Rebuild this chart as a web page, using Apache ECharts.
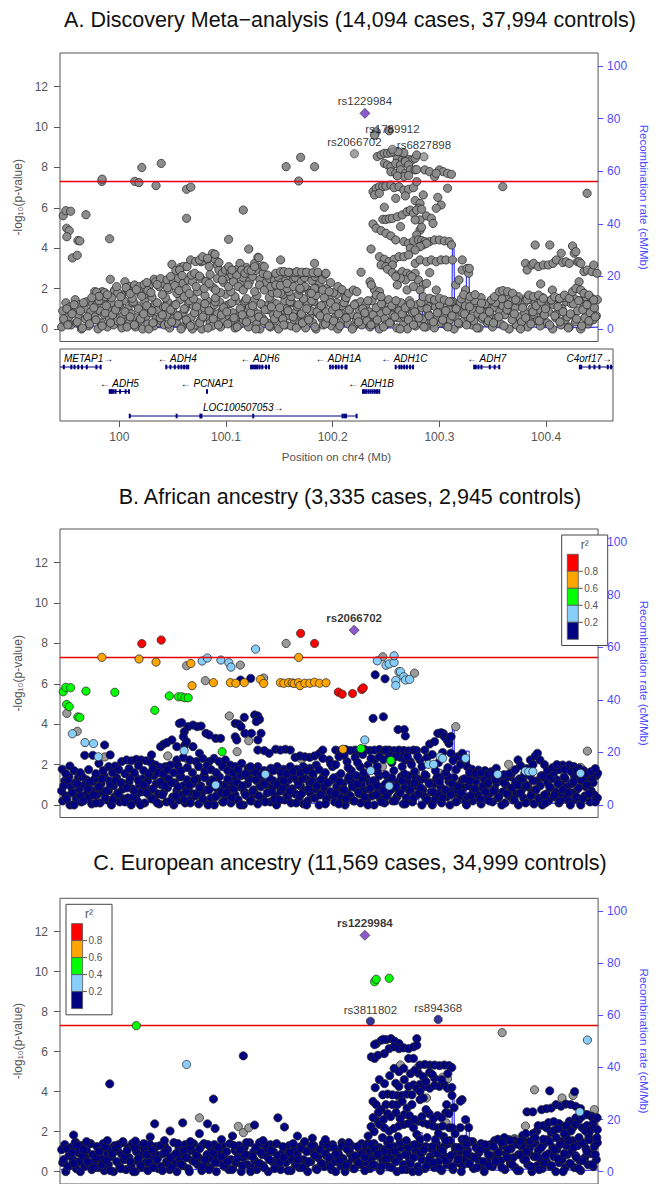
<!DOCTYPE html>
<html><head><meta charset="utf-8">
<script src="https://cdn.jsdelivr.net/npm/echarts@6/dist/echarts.min.js"></script>
<style>html,body{margin:0;padding:0;background:#fff}#c{width:658px;height:1184px}</style>
</head><body><div id="c"></div>
<script>
// ---------- axes / ticks ----------
// x positions are kb relative to chr4:100,000,000 (kb = (Mb - 100) * 1000)
const X_MIN = -55.6, X_MAX = 462.7;
const Y_MIN = -0.62, Y_MAX = 13.67;
const R_MIN = -4.75, R_MAX = 104.9;
const GWS = 7.3;
const xTicksMb = [100, 100.1, 100.2, 100.3, 100.4];
const yTicks = [0, 2, 4, 6, 8, 10, 12];
const recombTicks = [0, 20, 40, 60, 80, 100];
const r2Breaks = ['0.8', '0.6', '0.4', '0.2'];
const ldColors = ['#ff0000', '#ffa500', '#00ff00', '#87cefa', '#000080'];
const titles = ['A. Discovery Meta\u2212analysis (14,094 cases, 37,994 controls)',
  'B. African ancestry (3,335 cases, 2,945 controls)',
  'C. European ancestry (11,569 cases, 34,999 controls)'];

// ---------- recombination rate (cM/Mb) ----------
const recomb = [[-55,0.8],[-45,1.5],[-38,0.6],[-25,1.2],[-12,0.5],[0,0.9],[10,2.0],[18,0.7],[30,1.1],[42,0.4],[48,1.8],[55,0.6],[70,1.0],[85,0.5],[100,1.3],[115,0.6],[130,0.9],[150,0.4],[170,1.1],[190,0.6],[210,0.9],[230,0.5],[248,0.4],[290,0.4],[290.6,15],[293.2,15],[293.7,0.5],[321.8,0.6],[322.4,30.5],[324,30.5],[324.5,2],[335.5,2],[335.9,20.5],[338.5,20.5],[339,0.6],[355,0.9],[370,0.4],[390,1.0],[410,0.5],[430,0.8],[445,0.4],[462.7,0.7]];

// ---------- dense low-significance SNPs (shared positions, per-panel -log10 p) ----------
const bandKb = [
-54,-53,-51,-50,-47,-46,-45,-43,-41,-40,-38,-37,-35,-32,-31,-30,-28,-26,-25,-24,
-22,-20,-19,-17,-16,-14,-13,-10,-9,-8,-6,-4,-3,-1,0,2,4,5,6,8,
10,11,13,14,17,18,19,21,23,24,26,27,29,31,32,35,36,37,39,40,
42,44,45,47,48,50,53,54,55,57,59,60,62,63,65,67,68,71,72,73,
75,77,78,80,81,83,85,86,89,90,91,93,95,96,98,99,101,103,104,107,
108,109,111,113,114,116,117,119,121,122,125,126,127,129,131,132,134,135,137,139,
140,143,144,145,147,149,150,152,153,155,157,158,161,162,163,165,167,168,170,171,
173,175,176,179,180,181,183,185,186,188,189,191,193,194,197,198,199,201,203,204,
206,207,209,211,212,215,216,217,219,221,222,224,225,227,229,230,233,234,235,237,
239,240,242,243,245,247,248,251,252,253,255,257,258,260,261,263,265,266,269,270,
271,273,275,276,278,279,281,283,284,287,288,289,291,293,294,296,297,299,301,302,
305,306,307,309,311,312,314,315,317,319,320,323,324,325,327,329,330,332,333,335,
337,338,341,342,343,345,347,348,350,351,353,355,356,359,360,361,363,365,366,368,
369,371,373,374,377,378,379,381,383,384,386,387,389,391,392,395,396,397,399,401,
402,404,405,407,409,410,413,414,415,417,419,420,422,423,425,427,428,431,432,433,
435,437,438,440,441,443,445,446,449,450,451,453,455,456,458,459,461,462];
const bandKb2 = [
-52,-49,-48,-44,-42,-39,-36,-34,-33,-29,-27,-23,-21,-18,-15,-12,-11,-7,-5,-2,
1,3,7,9,12,15,16,20,22,25,28,30,33,34,38,41,43,46,49,51,
52,56,58,61,64,66,69,70,74,76,79,82,84,87,88,92,94,97,100,102,
105,106,110,112,115,118,120,123,124,128,130,133,136,138,141,142,146,148,151,154,
156,159,160,164,166,169,172,174,177,178,182,184,187,190,192,195,196,200,202,205,
208,210,213,214,218,220,223,226,228,231,232,236,238,241,244,246,249,250,254,256,
259,262,264,267,268,272,274,277,280,282,285,286,290,292,295,298,300,303,304,308,
310,313,316,318,321,322,326,328,331,334,336,339,340,344,346,349,352,354,357,358,
362,364,367,370,372,375,376,380,382,385,388,390,393,394,398,400,403,406,408,411,
412,416,418,421,424,426,429,430,434,436,439,442,444,447,448,452,454,457,460];
const bandA = [
0.1,0.9,0.4,1.3,0.6,1.1,0.2,0.8,1.45,0.3,0.7,1.2,0.0,1.0,0.5,1.35,0.15,0.85,0.45,1.25,
0.6,1.2,0.0,0.9,0.3,1.4,0.7,0.1,1.1,0.5,1.3,0.2,0.8,1.0,0.4,1.2,0.05,0.65,1.4,0.35,
1.0,0.3,0.75,1.3,0.1,0.55,1.15,0.4,0.9,0.0,1.4,0.6,0.25,1.05,0.8,0.15,1.25,0.5,0.95,0.3,
0.4,1.1,0.2,0.7,1.35,0.05,0.9,0.5,1.2,0.3,0.65,1.45,0.1,0.8,1.0,0.35,1.3,0.6,0.0,1.15,
0.2,0.85,1.3,0.45,0.0,1.05,0.6,1.4,0.3,0.9,0.15,1.2,0.55,0.75,1.35,0.1,0.95,0.4,1.15,0.65,
1.25,0.35,0.8,0.05,1.4,0.6,0.2,1.0,0.45,1.3,0.7,0.1,1.1,0.5,0.9,1.45,0.25,0.75,0.0,1.2,
0.5,1.15,0.3,0.95,0.1,1.35,0.7,0.4,1.25,0.0,0.85,0.55,1.4,0.2,1.0,0.65,0.15,1.3,0.45,0.8,
1.1,0.25,0.7,1.4,0.4,0.05,1.2,0.6,0.9,0.3,1.35,0.0,0.75,1.05,0.5,0.2,1.25,0.85,0.35,1.45,
0.15,0.95,0.55,1.3,0.0,0.8,1.15,0.35,1.4,0.6,0.25,1.0,0.7,0.1,1.25,0.45,0.9,1.35,0.2,0.65,
1.2,0.4,0.85,0.1,1.4,0.6,0.3,1.05,0.0,0.75,1.3,0.5,0.2,0.95,1.45,0.35,0.7,1.1,0.05,0.55,
0.9,1.3,0.2,0.6,1.0,0.0,1.4,0.45,0.8,0.15,1.2,0.65,0.3,1.05,0.5,1.35,0.1,0.75,1.15,0.4,
0.05,1.1,0.5,0.85,1.4,0.3,0.7,1.25,0.15,0.95,0.45,1.35,0.0,0.6,1.05,0.25,1.3,0.8,0.4,1.15,
0.6,1.45,0.2,1.0,0.4,1.3,0.75,0.05,1.55,0.5,0.9,1.2,0.3,0.65,1.4,0.1,1.05,0.55,1.3,0.85,
0.25,1.15,0.7,1.5,0.0,0.9,1.35,0.45,1.05,0.2,1.6,0.6,0.35,1.25,0.8,0.1,1.45,0.5,1.0,0.7,
1.3,0.4,0.95,0.15,1.55,0.65,1.1,0.3,0.85,1.4,0.0,1.2,0.55,0.75,1.5,0.2,1.0,0.45,1.35,0.6,
0.1,1.25,0.7,1.5,0.35,0.9,1.4,0.0,1.1,0.55,1.6,0.25,0.8,1.3,0.45,1.05,0.65,1.45];
const bandA2 = [
0.5,1.0,0.2,0.75,1.2,0.35,0.9,0.05,1.3,0.6,0.25,1.05,0.45,1.4,0.15,0.8,1.15,0.3,0.7,0.95,
1.25,0.4,0.85,0.1,0.6,1.35,0.2,1.0,0.5,0.75,1.15,0.0,0.9,0.3,1.3,0.55,0.7,1.1,0.25,0.95,
0.35,1.2,0.65,0.0,1.0,0.45,1.4,0.15,0.8,1.1,0.3,0.6,1.25,0.05,0.9,0.5,1.35,0.2,0.7,1.05,
0.85,0.25,1.3,0.55,0.1,1.0,0.7,1.4,0.35,0.8,1.15,0.0,0.6,1.25,0.4,0.95,0.15,1.1,0.5,0.75,
1.05,0.5,0.2,0.9,1.35,0.6,0.05,1.2,0.75,0.3,1.0,0.45,1.4,0.1,0.85,0.65,1.15,0.25,0.55,1.3,
0.4,1.1,0.75,0.15,1.3,0.55,0.95,0.0,1.2,0.6,0.35,1.0,0.8,1.4,0.2,0.7,1.05,0.45,1.25,0.1,
0.9,0.3,1.15,0.6,1.4,0.0,0.75,1.05,0.45,1.25,0.2,0.85,0.55,1.3,0.1,1.0,0.65,1.45,0.35,0.8,
1.2,0.45,0.9,0.1,1.35,0.65,1.0,0.3,1.5,0.75,0.2,1.1,0.55,1.4,0.05,0.95,0.6,1.25,0.4,0.85,
0.3,1.3,0.6,1.5,0.15,0.95,1.2,0.45,0.75,1.4,0.0,1.05,0.55,1.55,0.25,0.85,1.15,0.4,1.35,0.7,
1.0,0.2,1.45,0.65,1.1,0.35,0.85,1.55,0.05,0.75,1.25,0.5,1.4,0.15,0.95,1.2,0.4,1.5,0.6];
const bandB = [
0.7,0.2,1.2,0.45,1.4,0.0,0.9,0.6,1.1,0.3,1.35,0.8,0.15,1.0,0.5,1.25,0.35,0.75,0.05,1.15,
1.3,0.5,0.85,0.1,1.05,0.65,1.45,0.25,0.7,1.2,0.0,0.95,0.4,1.35,0.6,0.15,1.1,0.8,0.3,1.0,
0.35,1.15,0.0,0.8,1.4,0.5,0.2,1.0,0.65,1.3,0.1,0.9,1.2,0.45,0.75,1.45,0.25,1.05,0.55,0.05,
1.0,0.6,1.35,0.15,0.85,1.2,0.4,0.0,1.1,0.7,0.25,1.4,0.5,0.95,0.1,1.25,0.8,0.35,1.05,0.55,
0.45,1.3,0.05,0.95,0.6,1.45,0.2,0.75,1.1,0.35,1.25,0.0,0.85,0.5,1.4,0.7,0.15,1.0,0.4,1.2,
0.8,0.1,1.15,0.5,1.35,0.25,0.9,1.45,0.0,0.65,1.05,0.4,1.3,0.2,0.75,0.55,1.2,0.05,0.95,1.4,
0.3,1.0,0.6,1.4,0.15,0.85,1.2,0.45,0.0,1.1,0.7,1.35,0.25,0.9,0.5,1.25,0.1,0.8,1.45,0.55,
1.2,0.4,0.95,0.05,0.7,1.3,0.2,1.05,0.55,1.45,0.35,0.8,1.15,0.0,0.6,1.4,0.9,0.3,1.1,0.65,
0.5,1.25,0.15,0.9,1.4,0.35,0.75,1.05,0.0,0.6,1.3,0.45,1.15,0.2,0.85,1.45,0.55,0.1,1.0,0.7,
1.35,0.25,0.8,1.1,0.45,0.0,1.2,0.65,1.45,0.3,0.9,0.1,1.05,0.55,1.3,0.75,0.2,0.95,0.4,1.15,
0.6,1.4,0.05,0.85,0.35,1.2,0.7,1.0,0.15,1.35,0.5,0.9,1.25,0.0,0.75,0.4,1.45,0.25,1.1,0.65,
1.05,0.3,1.3,0.55,0.9,0.1,1.45,0.7,0.4,1.15,0.0,0.8,1.35,0.6,0.2,1.0,0.45,1.25,0.85,0.15,
0.4,0.95,1.35,0.2,0.7,1.15,0.5,1.45,0.05,0.85,1.25,0.3,1.0,0.6,1.4,0.15,0.8,1.1,0.35,0.55,
1.25,0.65,0.1,1.0,0.45,1.4,0.8,0.25,1.15,0.55,0.0,1.3,0.75,0.35,1.05,0.9,0.2,1.45,0.6,0.05,
0.75,1.2,0.35,0.95,0.0,1.35,0.55,1.1,0.2,0.85,1.45,0.4,0.65,1.25,0.1,1.0,0.5,1.3,0.3,0.9,
0.2,1.05,0.6,1.4,0.3,0.8,1.25,0.0,1.15,0.45,0.9,1.35,0.15,0.7,1.1,0.5,1.45,0.35];
const bandB2 = [
0.95,0.3,1.25,0.6,0.0,1.05,0.45,1.4,0.2,0.8,1.15,0.5,0.1,0.9,1.3,0.35,0.7,1.0,0.25,1.2,
0.55,1.1,0.15,0.85,1.35,0.4,0.7,1.2,0.0,1.0,0.6,1.45,0.3,0.8,0.1,1.15,0.5,0.95,1.3,0.2,
1.1,0.45,0.9,1.4,0.25,0.65,1.0,0.1,1.25,0.55,0.85,0.3,1.35,0.0,0.75,1.2,0.4,1.05,0.6,0.15,
0.6,1.3,0.35,0.8,1.1,0.0,0.95,0.5,1.45,0.2,0.7,1.25,0.45,0.9,1.05,0.15,1.35,0.65,0.3,1.0,
0.25,0.85,1.2,0.45,0.7,1.4,0.1,1.0,0.55,1.3,0.0,0.8,1.15,0.35,0.95,0.5,1.25,0.05,1.1,0.65,
1.35,0.55,0.05,1.15,0.75,0.3,1.4,0.9,0.2,1.05,0.6,1.3,0.4,0.0,0.85,1.2,0.5,0.95,0.15,0.7,
0.45,1.0,1.35,0.2,0.9,0.6,1.2,0.05,1.45,0.75,0.35,1.1,0.55,0.85,1.3,0.25,1.05,0.0,0.65,1.4,
1.15,0.35,0.75,1.4,0.5,1.05,0.15,0.9,0.6,1.3,0.0,1.2,0.45,0.8,1.45,0.3,0.95,0.65,1.1,0.2,
0.7,1.25,0.4,0.0,1.1,0.55,1.4,0.85,0.25,1.0,0.6,1.3,0.1,0.95,0.45,1.2,0.75,0.3,1.45,0.5,
0.1,0.9,1.3,0.5,1.05,0.2,0.75,1.4,0.6,0.0,1.15,0.4,0.85,1.25,0.3,1.0,0.55,1.35,0.15];
const bandC = [
1.1,0.45,1.35,0.0,0.8,0.3,1.2,0.6,1.45,0.15,0.95,0.5,1.3,0.25,0.7,1.05,0.4,1.4,0.1,0.85,
0.55,1.25,0.2,1.0,0.65,1.4,0.05,0.9,0.35,1.15,0.75,0.0,1.3,0.5,1.05,0.25,0.85,1.45,0.6,0.1,
1.2,0.7,0.3,1.4,0.0,1.0,0.55,1.3,0.2,0.85,1.15,0.45,0.05,1.35,0.65,0.95,0.35,1.25,0.15,0.8,
0.25,0.9,1.3,0.5,1.1,0.1,0.75,1.45,0.4,0.0,1.2,0.6,0.95,0.3,1.35,0.7,0.15,1.05,0.55,1.4,
0.95,0.35,0.7,1.25,0.05,1.4,0.5,0.85,0.2,1.15,0.65,1.35,0.0,0.8,0.45,1.0,1.3,0.25,0.6,0.1,
1.4,0.6,0.15,1.05,0.45,0.9,1.3,0.0,0.7,1.2,0.35,0.8,1.45,0.2,1.0,0.55,0.1,1.25,0.4,0.85,
0.3,1.15,0.75,0.0,1.35,0.5,1.0,0.25,1.4,0.65,0.1,0.9,1.2,0.45,0.8,1.3,0.05,0.6,1.1,0.35,
0.85,0.2,1.25,0.6,1.45,0.35,0.0,1.1,0.5,0.95,1.3,0.15,0.7,1.05,0.4,1.4,0.25,0.8,1.2,0.55,
0.1,1.35,0.5,0.8,1.05,0.3,1.45,0.65,0.0,1.2,0.4,0.9,1.3,0.15,0.75,0.55,1.15,0.35,1.4,0.95,
1.3,0.45,1.0,0.15,0.7,1.4,0.3,0.85,1.2,0.05,0.6,1.1,0.4,1.45,0.25,0.95,0.65,1.25,0.0,0.8,
0.7,1.2,0.35,1.45,0.1,0.9,0.55,1.3,0.0,1.05,0.8,0.25,1.35,0.6,1.0,0.15,1.25,0.45,0.75,1.15,
0.2,0.95,1.4,0.5,1.15,0.05,0.8,1.3,0.35,0.65,1.45,0.1,0.9,1.2,0.45,0.7,1.05,0.3,1.35,0.6,
1.05,0.4,0.75,1.5,0.15,1.2,0.6,0.95,1.4,0.3,0.0,1.1,0.5,1.35,0.8,0.25,1.55,0.65,1.0,0.45,
0.55,1.3,0.1,0.9,1.6,0.4,1.15,0.7,0.2,1.45,0.85,0.05,1.25,0.6,1.5,0.35,0.95,1.2,0.0,0.75,
1.45,0.3,1.05,0.65,0.15,1.35,0.5,1.6,0.9,0.25,1.2,0.75,0.0,1.1,0.45,1.5,0.6,0.2,1.3,0.85,
0.4,1.0,1.55,0.2,0.8,1.3,0.55,0.05,1.4,0.7,1.15,0.35,1.6,0.9,0.25,1.25,0.6,1.45];
const bandC2 = [
0.6,1.15,0.25,0.95,0.4,1.3,0.0,0.8,1.1,0.5,1.4,0.2,0.7,1.0,0.35,1.25,0.55,0.05,0.9,1.2,
1.35,0.15,0.75,1.05,0.5,0.0,1.2,0.65,0.3,1.4,0.85,0.45,1.1,0.2,0.6,1.3,0.05,0.95,0.4,0.7,
0.2,0.9,1.4,0.35,1.05,0.7,0.0,1.25,0.5,0.8,1.15,0.25,0.6,1.35,0.1,0.95,0.45,1.2,0.75,0.3,
1.0,0.5,0.1,1.3,0.65,1.1,0.3,0.85,1.45,0.0,0.75,1.2,0.4,0.95,0.2,1.35,0.6,1.05,0.15,0.8,
0.45,1.25,0.7,0.05,0.95,1.4,0.35,0.6,1.15,0.2,1.0,0.5,1.3,0.8,0.1,1.1,0.4,0.9,1.35,0.25,
1.2,0.0,0.85,0.55,1.35,0.3,1.05,0.7,0.15,1.25,0.45,0.95,0.05,1.4,0.6,0.35,1.15,0.8,0.25,1.0,
0.65,1.3,0.2,1.0,0.5,1.45,0.1,0.85,1.2,0.4,0.7,1.35,0.0,0.95,1.1,0.3,0.6,1.25,0.45,0.9,
0.15,1.05,0.55,1.4,0.8,0.25,1.2,0.6,0.0,1.3,0.9,0.4,1.5,0.7,0.2,1.1,0.5,1.35,0.85,0.3,
1.25,0.5,0.95,0.2,1.45,0.7,1.1,0.35,1.55,0.05,0.85,1.3,0.6,1.0,0.25,1.4,0.75,0.1,1.2,0.45,
0.8,1.5,0.3,1.1,0.65,1.35,0.0,0.9,1.55,0.4,1.2,0.7,0.15,1.45,0.55,1.0,1.6,0.35,0.85];

// ---------- Panel A: SNPs above the dense band (no LD colouring) ----------
const snpsA = [
[-52.5,5.61],[-50,5.86],[-45.3,5.83],[-49.2,4.99],[-46.7,4.87],[-49,4.57],[-43.7,3.52],[-39,3.65],[-38.4,4.38],[-36.5,4.36],[-30.6,5.66],[-15.3,7.31],[-15,7.42],[-7.8,4.47],[-7.2,2.46],[-2.8,1.93],[-22.2,1.85],[-15,1.85],[-12,1.6],[-20.3,1.82],[-12.5,1.8],[-3,1.9],
[6.9,2.34],[11.6,2.1],[16.3,2.18],[21,2.1],[25.5,2.2],[30.3,2.13],[35,2.46],[39.7,2.1],[44.4,2.26],[36.6,2.34],[41.3,2.5],[47.5,2.43],[53.7,2.34],[58.4,2.5],[63.1,2.26],[67.8,2.43],[52.2,3.2],[56,2.9],[60.5,3.05],[63.5,3.1],[59.6,2.92],[66.8,3.09],[70.2,3.42],[75,3.34],
[-18,1.62],[-6,1.55],[4,1.68],[14,1.52],[26,1.72],[33,1.58],[46,1.55],[57,1.76],[64,1.6],[73,1.5],[84,1.66],[94,1.54],[104,1.72],[113,1.6],[124,1.5],[134,1.66],[146,1.56],[159,1.7],[167,1.6],[179,1.5],[191,1.66],[199,1.56],[211,1.72],[219,1.6],[0,1.8],[9,1.95],[20,1.85],[29,1.9],[49,1.95],
[-25,1.55],[-10,1.7],[-1,2.1],[3,1.6],[8,2.05],[12,1.75],[18,1.95],[23,1.62],[28,2.3],[32,1.8],[38,2.2],[43,1.7],[48,2.05],[51,2.6],[55,2.15],[59,1.9],[62,2.65],[66,2.0],[69,1.75],[72,2.35],[77,1.85],[80,2.5],[85,2.35],[89,2.7],[92,2.05],[96,2.5],[99,1.8],[102,2.3],[105,2.6],[109,1.85],[112,2.5],[115,2.95],[118,2.2],[121,2.55],[124,3.05],[127,2.35],[130,2.6],[133,2.9],[137,2.45],[140,2.75],[143,2.3],[146,2.5],[149,1.8],[151,2.4],[155,2.55],[158,2.3],[162,2.45],[165,1.85],[168,2.35],[171,2.55],[174,1.7],[177,2.35],[180,2.55],[183,1.95],[187,2.4],[190,2.6],[194,2.2],[197,2.45],[201,2.0],[205,2.3],[208,1.8],[212,2.1],[216,1.95],[220,1.55],
[70.9,2.67],[74.1,2.76],[78.8,2.62],[80.3,3.33],[81.9,3.38],[86.6,3.45],[88.1,3.09],[91.3,3.58],[93.7,3.45],[96,3.17],[97.5,2.92],[100.7,2.76],[103.7,2.92],[108.4,2.84],[110,2.67],[114.7,2.67],[117.8,3.25],[119.4,2.92],[122.5,2.76],[125.6,2.92],[128.8,2.89],[131.9,3.25],[135,3.55],[139.6,3.12],[141.2,3.09],[144.3,2.67],[91.3,3.74],[93.7,3.7],[78.7,3.42],[81.8,3.58],[86.5,3.5],[97.5,3.29],[107,3.09],[110,2.92],[131.8,3.09],[135.9,3.53],[106.8,4.44],[126.2,3.96],
[75.6,2.1],[83.4,2.01],[88.1,2.26],[94.4,1.93],[100.7,2.43],[106.8,2.1],[111.5,2.34],[116.2,2.1],[120.9,1.93],[125.6,2.18],[131.9,1.85],[136.6,2.18],[141.2,1.93],[147.5,2.1],[152.2,2.18],[156.9,1.77],[163.1,2.01],[169.4,2.1],[175.6,1.93],[180.3,2.1],[185,1.77],[191.2,2.01],[197.5,1.93],[203.7,1.85],[156.8,2.15],[163.1,2.26],[175.6,2.01],[189.6,2.01],[186.5,1.77],[153.8,1.77],
[152.2,2.76],[156.9,2.84],[161.5,2.76],[166.2,2.79],[170.9,2.79],[175.6,2.76],[180.3,2.79],[185,2.76],[191.2,2.76],[200,2.72],[160,2.84],[164.6,2.81],[172.5,2.84],[177.2,2.81],[181.9,2.81],[188.1,2.79],[192.8,2.81],[156.9,3.42],[189.6,3.25],
[16.4,7.31],[20.5,7.25],[23.2,8.0],[36.9,7.1],[41.9,8.2],[66.3,5.48],[66.3,6.92],[70.4,7.03],[120.9,5.89],[162.2,8.04],[176.2,8.5],[174.3,7.33],[189.6,8.04],
[249,9.77],[261.5,9.82],[247.4,9.6],
[250,8.54],[253.7,8.62],[256.8,8.7],[259.9,8.7],[263.1,8.73],[265.6,8.78],[269.3,8.45],[274,8.37],[277.1,8.37],[280.2,8.4],[283.4,8.37],[286.5,8.45],[288,8.62],[275.6,8.73],[270,8.78],
[256.8,8.2],[259.9,8.12],[263.1,8.04],[267.8,8.2],[272.4,8.12],[277.1,8.29],[280.2,8.12],[263.1,7.79],[267.8,7.71],[272.4,7.88],[277.1,7.71],[281.8,7.88],[286.5,7.88],[275.6,7.55],[280.2,7.6],[269.3,7.58],
[288,7.9],[295.8,7.88],[300.5,7.79],[305.2,7.55],[309.9,7.88],[313.6,7.79],[317.7,7.71],[321.5,7.66],[306.8,7.71],
[245.9,6.8],[249,6.97],[252.1,7.05],[255.3,7.05],[258.4,7.08],[263.1,7.13],[266.2,7.0],[270.9,7.05],[275.6,6.88],[280.2,6.92],[284.9,7.0],[288,7.3],[317.7,6.97],
[247.4,6.64],[252.1,6.72],[267.8,6.47],[277.1,6.59],[294.3,6.64],[308.3,6.52],[311.5,6.14],[306.8,5.98],[256.8,6.03],[286.5,6.36],[291.2,6.22],[289.6,5.98],
[255.3,5.43],[258.4,5.43],[261.5,5.46],[264.6,5.48],[269.3,5.56],[274,5.65],[278.7,5.81],[281.8,5.89],[284.9,5.73],[288,5.89],[292.7,5.93],[297.4,5.6],[302.1,5.48],[303.7,5.23],[291.2,5.4],[286.5,5.4],
[245.9,5.2],[249,4.99],[253.7,4.87],[258.4,4.74],[263.1,4.61],[267.8,4.41],[272.4,5.07],[291.2,4.9],[288,4.66],[292.7,5.04],
[275.6,4.33],[280.2,4.24],[284.9,4.36],[289.6,4.41],[292.7,4.38],[295.8,4.33],[300.5,4.33],[305.2,4.41],[309.9,4.41],[314.6,4.36],[319.3,4.33],[321.5,4.16],[294.3,4.16],[297.4,4.24],[291.2,4.08],
[244,3.96],[281.8,4.0],[286.5,3.91],
[252.1,3.58],[256.8,3.45],[261.5,3.33],[266.2,3.45],[270.9,3.58],[275.6,3.58],[280.2,3.67],[286.5,3.25],[291.2,3.42],[297.4,3.33],[302.1,3.42],[306.8,3.33],[311.5,3.42],[253.7,3.17],[258.4,3.09],[264.6,3.17],[316.2,3.42],[322.4,3.42],[331.8,3.42],
[259.9,2.96],[264.6,2.79],[269.3,2.67],[274,2.84],[278.7,2.76],[281.8,2.67],[286.5,2.76],[289.6,2.43],[294.3,2.18],[297.4,2.26],[277.1,2.43],[272.4,2.51],[267.8,2.59],[283.4,2.59],[300.5,2.79],[306.8,1.93],
[234.4,2.81],[200.6,2.76],[243,2.34],[247.4,1.93],[252.1,1.85],[222.5,1.77],[227.1,1.93],[230.3,1.85],[244.3,2.18],[249,1.68],[253.7,1.6],
[291.2,1.93],[294.3,1.6],[300.5,1.52],[305.2,1.44],[309.9,1.52],[314.6,1.44],[319.3,1.35],[269.3,2.18],[278.7,1.93],[284.9,2.1],
[325.6,2.18],[328.7,2.43],[331.8,2.92],[336.5,3.0],[338,2.76],[335,1.93],[333.3,1.7],[339.5,1.6],[344.2,1.7],[350.4,1.28],[338.7,3.0],
[370.9,7.05],[452.1,6.72],[402.1,4.16],[416.2,4.16],
[392.7,3.25],[394.3,2.92],[399,3.17],[400.6,3.25],[405.3,3.09],[410,3.17],[414.7,3.17],[419.4,3.25],[422.5,3.42],[427.2,3.75],[428.7,3.29],[431.9,3.33],[435,3.25],[438.1,4.11],[439.7,3.75],[441.3,3.83],[442.8,3.33],[444.4,3.33],[446,3.25],
[449.1,2.84],[452.2,2.92],[456.9,2.84],[458.5,3.17],[461.6,2.76],[407.4,2.23],[418.6,1.93],[444.4,2.34],
[359.9,1.44],[363,1.6],[367.7,1.85],[370.9,1.9],[375.6,1.85],[380.3,1.77],[383.4,1.44],[394.3,1.44],[395.9,1.68],[400.6,1.6],[405.3,1.68],[410,1.52],[417.8,1.44],[420.9,1.6],[425.6,1.52],[430.3,1.68],[435,1.52],[438.1,1.85],[441.3,2.01],[446,1.93],[449.1,1.77],[453.8,1.68],[458.5,1.44]];
const labA = [['rs2066702',228,8.68],['rs1789912',264.6,8.9],['rs6827898',295,8.53]];
const leadA = [['rs1229984',238.1,10.68]];

// ---------- Panel B (African ancestry), coloured by r2 ----------
const bNavy = [
[-53.4,1.77],[-46.1,1.93],[-31.8,2.46],[-24,2.46],[-12.6,2.97],[-7.3,2.48],[-18.1,2.06],[-8.7,1.9],
[-2.5,1.93],[3.8,2.15],[8.5,2.23],[13.2,2.19],[17.9,2.26],[22.6,2.23],[27.3,2.19],[32,2.1],[36.6,1.98],[41.3,1.86],
[32.6,2.48],[41.3,2.89],[44.4,3.02],[47.5,3.09],[52.2,3.22],[56.9,2.89],[59.4,4.04],[61.6,4.08],[64.1,3.63],[64.7,2.97],[67.8,3.88],[72.5,3.96],[76.5,3.88],[80.3,3.91],[85,3.55],[88.1,3.47],[94.4,3.3],[99.1,3.3],[63.2,3.38],[66.3,3.14],[72.5,2.89],[78.7,2.56],
[113.2,4.04],[116.3,4.01],[118.8,3.88],[121.9,4.34],[131.9,4.46],[135,4.41],[136.6,4.24],[138.1,3.55],[135,3.22],[113.2,3.38],[114.7,3.22],[122.5,3.55],[128.8,3.55],[133.5,4.13],
[135,2.72],[141.2,2.69],[145.9,2.56],[152.2,2.76],[156.8,2.72],[161.5,2.76],[166.2,2.72],[170.9,2.36],[175.6,2.43],[180.3,2.39],[185,2.36],[189.6,2.43],[194.4,2.56],[197.5,2.72],
[46,1.9],[50.7,1.98],[56.9,2.23],[63.2,2.36],[69.4,2.23],[75.6,2.15],[81.9,2.31],[88.1,2.15],[92.8,2.31],[97.5,2.15],[103.7,2.23],[108.4,1.98],[113.2,1.9],[119.4,2.06],[125.6,1.82],[130.4,1.65],[135,1.9],[141.2,1.7],[147.5,1.82],[153.7,1.9],[160,1.77],[166.2,1.9],[172.5,1.77],[178.7,1.9],[185,1.82],[191.2,1.98],
[-50,1.55],[-42,1.7],[-36,1.6],[-28,1.75],[-21,1.55],[-14,1.7],[-5,1.6],[1,1.75],[7,1.55],[11,1.8],[16,1.6],[20,1.95],[25,1.7],[30,1.55],[34,1.8],[39,1.6],[44,1.55],[48,1.75],[54,1.6],[58,1.95],[61,1.7],[67,1.85],[72,1.6],[78,1.9],[84,1.65],[86,1.95],[90,1.75],[95,1.6],[101,1.9],[106,1.7],[111,1.6],[116,1.75],[123,1.55],[128,1.9],[133,1.6],[138,1.5],[144,1.6],[150,1.7],[157,1.6],[163,1.55],[169,1.65],[176,1.6],[182,1.7],[188,1.55],[194,1.75],
[118.4,6.19],[128.1,6.27],
[248,6.45],[257.5,6.25],[246,4.29],[255.9,4.37],[270,3.74],[276,3.74],[277,3.42],[310.6,3.54],[313.7,3.54],[321,3.38],[317.5,3.2],[319,3.05],
[210,2.72],[214.7,2.69],[219.4,2.75],[224.1,2.7],[228.7,2.72],[233.4,2.68],[238.1,2.74],[242.8,2.7],[247.4,2.72],[252.1,2.75],[256.8,2.7],[261.5,2.72],[266.2,2.69],[270.9,2.72],[275.6,2.7],[280.2,2.68],[284.9,2.72],[288,2.7],
[197.5,2.31],[203.7,2.23],[206.8,1.9],[213.1,2.39],[220.9,2.15],[228.7,2.36],[233.4,1.9],[241.2,1.98],[247.4,2.23],[252.1,2.39],[261.5,2.48],[272.4,2.36],[277.1,2.23],[281.8,2.15],[291.2,2.23],[295.8,2.72],[300.5,3.02],[305.2,3.14],[308.3,3.55],[311.5,3.58],[314.6,3.38],[317.7,3.22],[320.9,3.38],[320.9,2.56],[327.2,2.39],[331.9,2.56],[335,2.15],[336.6,1.9],[258.4,2.72],
[200,1.6],[215,1.55],[225,1.7],[237,1.6],[250,1.65],[258,1.5],[266,1.7],[276,1.55],[286,1.65],[296,1.5],[306,1.7],[316,1.6],[326,1.75],
[205,2.05],[210,2.0],[218,2.45],[222,1.85],[231,2.1],[236,2.5],[244,2.3],[250,1.9],[256,2.25],[264,2.1],[268,2.4],[274,1.9],[279,2.4],[283,2.0],[289,2.4],[293,1.9],[298,2.35],[303,2.5],[309,2.1],[313,2.6],[318,1.85],[323,2.2],[330,2.0],[333,2.3],
[341.2,1.77],[347.4,1.73],[353.7,1.7],[359.9,1.65],[364.6,1.82],[385.6,2.23],[397.5,2.23],[402.2,2.43],[404.3,2.56],[406.7,2.23],[409.9,1.44],[416.1,1.4],[428.6,1.98],[434.8,1.98],[439.5,1.9],[444.2,1.82],[448.9,1.7],[453.6,1.57],[458.3,1.53],[462.3,1.57],[372,1.5],[380,1.6],[392,1.55],[420,1.6],[425,1.75],
[339,1.6],[345,1.55],[350,1.6],[357,1.5],[362,1.55],[377,1.55],[383,1.75],[388,1.95],[394,1.8],[400,2.0],[411,2.0],[414,1.7],[419,1.85],[423,2.0],[431,1.75],[437,1.65],[442,1.7],[451,1.55],[456,1.65],[460,1.8]];
const bLightBlue = [[-43.7,3.53],[-31.5,3.09],[-23.3,3.04],[-18.7,2.39],[64,2.69],[94.4,0.99],[142.2,1.52],[81.3,7.13],[86.3,7.28],[99.4,7.18],[107,7.05],[109.1,6.83],[132.8,7.72],[250,7.14],[258.4,6.92],[261.5,6.99],[266.2,7.06],[266.2,7.39],[270.9,6.6],[272.4,6.6],[275.5,6.35],[277.1,6.19],[281.2,6.22],[267.8,6.17],[267.8,5.92],[238,3.22],[243.7,1.7],[261.5,0.94],[299.3,2.01],[304.3,2.01],[310.6,2.39],[313,2.31],[335,2.31],[366,1.52],[392.7,1.68],[395.9,1.65],[399.9,1.65],[445.8,1.57]];
const bGreen = [[-52.5,5.61],[-50,5.83],[-45.3,5.81],[-49.2,4.98],[-46.7,4.87],[-38.4,4.36],[-36.5,4.34],[-30.6,5.64],[-2.8,5.58],[35.7,4.69],[49.7,5.4],[58.5,5.36],[61.6,5.36],[64.7,5.31],[67.9,5.31],[100.6,2.64],[234.3,2.79],[263,2.2]];
const bOrange = [[-15.3,7.31],[20.5,7.23],[36.9,7.08],[70.4,7.01],[71.6,5.91],[92.2,6.06],[108.5,6.06],[113.8,6.03],[121.9,6.06],[137.5,6.22],[140.6,6.02],[156.8,6.06],[160,6.03],[164.6,6.06],[168,6.05],[170,6.02],[174.1,6.06],[175.6,5.91],[180.3,6.03],[185,6.03],[189.6,6.08],[194.4,6.03],[174.3,7.31],[200.6,6.05],[217,2.76]];
const bRed = [[23.2,7.99],[41.9,8.17],[176.2,8.5],[189.6,8.0],[212.5,5.59],[216.2,5.49],[226.2,5.52],[235,5.72],[236.5,5.8]];
const bGray = [[-49,4.54],[-39,3.65],[-12.5,2.38],[48.2,2.43],[68.5,2.18],[66.3,6.9],[84.4,6.16],[107.5,4.41],[115,2.64],[118.1,6.93],[126.2,3.18],[140.6,6.29],[162.2,8.0],[177.2,2.26],[255.3,7.34],[285.9,6.53],[325.6,3.88],[376.5,2.01],[452.4,2.67],[310.3,1.57],[238.8,1.32],[255,1.9],[445.8,1.86]];
const leadB = [['rs2066702',227.7,8.66]];

// ---------- Panel C (European ancestry), coloured by r2 ----------
const cNavy = [
[-42.5,1.83],[-7.7,4.39],[121,5.79],[92.2,3.63],[78.7,1.9],[86.5,2.39],[93.8,2.16],[110.6,1.78],[131.8,2.33],[154.3,2.69],[160.6,2.23],[173.1,1.78],[187.5,1.67],[35.6,2.39],[50.4,2.03],[62.6,2.44],[31.3,1.73],[17,1.53],[136.6,1.45],[-30,1.5],[-10,1.55],[5,1.5],[45,1.55],[70,1.5],[100,1.6],[140,1.55],[180,1.5],[200,1.6],
[249.2,6.4],[253.9,6.57],[258.6,6.6],[263.2,6.65],[266.9,6.52],[271,6.4],[288.1,6.65],[247.4,6.35],[256,6.62],
[244.3,5.74],[247.4,5.66],[250.6,5.82],[256.8,5.9],[261.5,6.15],[266.2,6.24],[270.9,6.15],[275.5,6.19],[280.2,6.15],[284.9,6.24],[288.1,6.32],
[266.2,5.16],[270.9,5.0],[275.5,5.16],[280.2,5.66],[284.9,5.66],
[291,5.33],[295.8,5.36],[300.5,5.33],[305.2,5.33],[309.9,5.3],[314.6,5.33],[319.2,5.3],[321.8,5.21],
[289.6,4.92],[294.3,4.75],[300.5,4.97],[305.2,4.67],[267.8,4.42],[270.9,4.26],
[280.2,4.26],[284.9,4.34],[291.2,4.37],[295.8,4.26],[300.5,4.17],[305.2,4.31],[309.9,4.26],[314.6,4.34],[317.7,4.17],[321.8,4.21],[288.1,4.17],[291.2,4.01],
[255.3,3.84],[260,3.88],[264.6,3.84],[269.3,3.81],[274,3.81],[278.7,3.88],[283.4,3.84],
[322,3.81],[331.7,3.6],[330,3.52],[316.8,3.35],
[245.9,3.51],[249,3.35],[253.7,3.1],[258.4,3.35],[264.6,3.35],[269.3,3.35],[274,3.51],[278.7,3.18],[283.4,3.35],[291.2,3.6],[294.3,3.68],
[250.6,2.52],[252.1,2.36],[256.8,2.19],[261.5,2.03],[266.2,2.16],[270.9,2.28],[275.6,2.36],[280.2,2.41],[284.9,2.19],[289.6,2.52],[294.3,2.44],[299,2.36],[303.7,2.28],[308.3,2.19],[313,2.28],[319.3,2.19],[322.4,2.19],
[288.1,1.86],[291.2,1.62],[241.2,1.78],[244.3,1.37],[247.4,1.12],[250.6,0.87],[216.2,1.29],[220.9,1.12],[222.5,1.45],[228.7,0.79],[235,0.87],[238.1,0.71],[209.9,0.87],[203.7,0.71],
[331.7,1.62],[334.8,1.62],[336.4,1.37],[328.6,1.2],
[255,1.7],[262,1.6],[270,1.75],[278,1.55],[298,1.7],[306,1.6],[314,1.75],[320,1.55],[260,2.9],[268,2.95],[276,2.85],[300,2.9],[308,2.8],[316,2.95],
[246,2.7],[251,2.95],[256,2.6],[263,2.75],[272,2.65],[281,2.8],[286,2.6],[293,2.75],[297,3.1],[304,2.65],[312,2.7],[319,2.9],[324,3.2],[248,4.2],[252,4.6],[257,4.4],[262,4.8],[276,4.6],[282,4.9],[286,5.05],[297,4.5],[303,4.85],[312,4.6],[318,4.9],[244,2.25],[247,2.0],[309,1.9],[316,1.55],[325,1.9],[330,2.2],[335,2.6],[338,2.2],
[394.2,2.99],[399.8,2.99],[408.3,3.1],[413,3.15],[417.6,3.18],[422.3,3.35],[427,3.27],[431.7,3.38],[436.4,3.35],[441.1,3.27],[445.8,3.15],[450.5,2.85],[456.7,2.77],[461.4,2.69],[416.1,4.04],[440.1,4.0],
[435.1,2.52],[438.2,2.44],[441.3,2.69],[444.4,2.6],[447.6,2.77],[452.3,2.85],[457,2.72],[461.7,2.69],
[417.6,1.95],[438.2,2.19],[441.3,2.36],[436.6,2.03],
[366.2,1.62],[372.4,1.7],[384.9,1.37],[397.4,1.53],[409.9,1.62],[422.4,1.7],[431.8,1.78],[444.3,1.7],[453.7,1.86],[461.5,1.7],[403.7,2.03],[413,2.19],[428.6,2.19],[447.4,2.19],[450.5,2.03],
[390,1.8],[400,1.9],[420,2.05],[430,1.9],[452,2.3],[458,2.4],[425,2.4],[405,2.3],
[370,1.45],[378,1.55],[388,1.5],[393,1.9],[402,1.7],[410,2.3],[415,2.45],[420,2.5],[424,2.15],[432,2.3],[455,2.05],[459,2.2],[462,2.1]];
const cLightBlue = [[66.3,5.36],[452.4,6.58],[445.1,2.99]];
const cGreen = [[17.9,7.3],[247.4,9.5],[249,9.62],[261.5,9.67]];
const cGray = [[370.3,6.95],[401.5,4.09],[428,3.68],[438.6,3.81],[459.1,3.1],[392.7,2.28],[382.4,1.65],[428,2.28],[453,1.62],[78.7,2.69],[116.2,2.26],[121,1.95],[126.2,2.19],[272.4,5.33],[288,5.16],[313,4.72],[317.7,4.64],[316.2,2.44],[297.4,3.68],[253.7,0.51],[283.4,0.79],[381.8,1.62],[30,1.4],[-40,1.45],[440,1.3]];
const labC = [['rs3811802',243.4,7.52],['rs894368',308.7,7.61]];
const leadC = [['rs1229984',238.1,11.82]];

// ---------- genes ----------
const geneNames = ['METAP1','ADH5','ADH4','PCNAP1','LOC100507053','ADH6','ADH1A','ADH1B','ADH1C','ADH7','C4orf17'];
const geneStart = [-84,-9.3,43.6,81.5,9.4,123,197.2,228,258.7,332.2,431.3];
const geneEnd = [-17.5,9.4,65,83,222.8,140.8,213.3,244,275.7,356.5,473];
const geneRow = [1,2,1,2,3,1,1,2,1,1,1];
const geneStrand = ['+','-','-','-','+','-','-','-','-','-','+'];
const geneExons = [
 [-52,-45,-42,-38.5,-35,-30.5,-21.5,-17.5],
 [-9,-8,-7,-5.5,-3.5,0.7,5.9,9],
 [44,47.9,52,55.5,58.2,60.7,63,64.6],
 [82.2],
 [9.8,53.7,76,77,125.5,209.2,210.9,212.5,222.4],
 [123.5,125,126.5,128,129.5,131.5,134,137.5,140.3],
 [197.6,200,203,205.5,208.5,212,213],
 [228.4,230,231.5,233.5,235.5,237.5,239.5,241.5,243.6],
 [259,262.5,264.5,267,269.5,272.5,275.3],
 [332.6,334.1,336.6,339.4,347.2,351.8,356.1],
 [431.6,432.9,440.7,445.3,450,457.8,460.9]];

// ---------- build chart ----------
const FONT = '"Liberation Sans", Arial, Helvetica, sans-serif';
const BLUE = '#4b4bff';
const AXIS_GRAY = '#555';
const GENE_COLOR = '#000080';
const LEAD_COLOR = '#7030c0';
const PLOT = {left: 60, width: 553};
const panelTops = [53, 529, 898.3];
const PANEL_H = 288.5;
const labelLift = {rs1789912: 10};   // keep crowded SNP labels apart
const band = (kb, ys) => kb.map((k, i) => [k, ys[i]]).filter(p => p[1] !== undefined);
const xTickKb = xTicksMb.map(m => Math.round((m - 100) * 1000));

function xAxisHidden(gi) {
  return {gridIndex: gi, type: 'value', min: X_MIN, max: X_MAX, show: false};
}
function leftY(gi) {
  return {gridIndex: gi, type: 'value', min: Y_MIN, max: Y_MAX, position: 'left',
    axisLine: {show: false, onZero: false}, splitLine: {show: false},
    axisTick: {show: true, customValues: yTicks, length: 6, lineStyle: {color: AXIS_GRAY}},
    axisLabel: {customValues: yTicks, color: AXIS_GRAY, fontSize: 12, margin: 12, fontFamily: FONT},
    name: '-log\u2081\u2080(p-value)', nameLocation: 'middle', nameGap: 34, nameRotate: 90,
    nameTextStyle: {color: AXIS_GRAY, fontSize: 12, fontFamily: FONT}};
}
function rightY(gi) {
  return {gridIndex: gi, type: 'value', min: R_MIN, max: R_MAX, position: 'right',
    axisLine: {show: false, onZero: false}, splitLine: {show: false},
    axisTick: {show: true, customValues: recombTicks, length: 5, lineStyle: {color: BLUE}},
    axisLabel: {customValues: recombTicks, color: BLUE, fontSize: 12, margin: 9, fontFamily: FONT},
    name: 'Recombination rate (cM/Mb)', nameLocation: 'middle', nameGap: 36, nameRotate: -90,
    nameTextStyle: {color: BLUE, fontSize: 11.5, fontFamily: FONT}};
}
function pointSeries(xi, yi, data, color, z, withLine) {
  const s = {type: 'scatter', xAxisIndex: xi, yAxisIndex: yi, data, symbol: 'circle', symbolSize: 8.2,
    z, silent: true, animation: false,
    itemStyle: {color, borderColor: '#2a2a2a', borderWidth: 0.8, opacity: 1}};
  if (withLine) s.markLine = {silent: true, symbol: ['none', 'none'], label: {show: false}, animation: false,
    lineStyle: {color: '#e60000', width: 1.3, type: 'solid'}, data: [{yAxis: GWS}]};
  return s;
}
function labelled(xi, yi, items, color, symbol, size, bold) {
  return {type: 'scatter', xAxisIndex: xi, yAxisIndex: yi, symbol, symbolSize: size, z: 9, silent: true, animation: false,
    data: items.map(d => ({name: d[0], value: [d[1], d[2]], label: {distance: labelLift[d[0]] || 1}})),
    itemStyle: {color, borderColor: '#2a2a2a', borderWidth: 0.8},
    label: {show: true, position: 'top', distance: 1, formatter: '{b}', color: '#000', fontSize: 11.5,
      fontFamily: FONT, fontWeight: bold ? 'bold' : 'normal'}};
}
function recombSeries(xi, yi) {
  return {type: 'line', xAxisIndex: xi, yAxisIndex: yi, data: recomb, showSymbol: false, symbol: 'none',
    lineStyle: {color: '#3a3aff', width: 1.2}, z: 1, silent: true, animation: false};
}
function geneRender(params, api) {
  const i = params.dataIndex;
  const cs = params.coordSys;
  const s = api.coord([geneStart[i], geneRow[i]]);
  const e = api.coord([geneEnd[i], geneRow[i]]);
  const x0 = Math.max(s[0], cs.x), x1 = Math.min(e[0], cs.x + cs.width);
  const y = s[1];
  const children = [{type: 'line', shape: {x1: x0, y1: y, x2: x1, y2: y}, style: {stroke: GENE_COLOR, lineWidth: 1}}];
  geneExons[i].forEach(ex => {
    const p = api.coord([ex, geneRow[i]]);
    if (p[0] >= cs.x && p[0] <= cs.x + cs.width)
      children.push({type: 'rect', shape: {x: p[0] - 1, y: y - 2.3, width: 2, height: 4.6}, style: {fill: GENE_COLOR}});
  });
  const txt = geneStrand[i] === '+' ? geneNames[i] + '\u2192' : '\u2190 ' + geneNames[i];
  let cx = (x0 + x1) / 2, align = 'center';
  const hw = txt.length * 2.9;
  if (cx - hw < cs.x + 3) { cx = cs.x + 4; align = 'left'; }
  else if (cx + hw > cs.x + cs.width - 1) { cx = cs.x + cs.width - 1; align = 'right'; }
  children.push({type: 'text', x: cx, y: y - 8.5, style: {text: txt, align, verticalAlign: 'middle',
    fontSize: 10, fontStyle: 'italic', fontFamily: FONT, fill: '#000'}});
  return {type: 'group', children};
}
function r2Legend(left, top) {
  const els = [{type: 'rect', z: 100, shape: {x: left, y: top, width: 46, height: 110.5},
    style: {fill: '#fff', stroke: '#444', lineWidth: 1}}];
  els.push({type: 'text', z: 101, x: left + 23, y: top + 10,
    style: {text: 'r\u00b2', align: 'center', verticalAlign: 'middle', textAlign: 'center', textVerticalAlign: 'middle',
      font: '12px ' + FONT, fill: '#555'}});
  ldColors.forEach((c, i) => els.push({type: 'rect', z: 101,
    shape: {x: left + 5.6, y: top + 19.3 + i * 17, width: 11, height: 17}, style: {fill: c, stroke: '#555', lineWidth: 0.8}}));
  r2Breaks.forEach((t, i) => {
    const y = top + 19.3 + (i + 1) * 17;
    els.push({type: 'line', z: 101, shape: {x1: left + 16.6, y1: y, x2: left + 21, y2: y}, style: {stroke: '#555', lineWidth: 1}});
    els.push({type: 'text', z: 101, x: left + 22.5, y,
      style: {text: t, align: 'left', verticalAlign: 'middle', textAlign: 'left', textVerticalAlign: 'middle',
        font: '10px ' + FONT, fill: '#555'}});
  });
  return els;
}
const titleY = [20, 497, 863];
const graphics = titles.map((t, i) => ({type: 'text', x: 350, y: titleY[i], z: 100,
  style: {text: t, align: 'center', verticalAlign: 'middle', textAlign: 'center', textVerticalAlign: 'middle',
    font: '21.5px ' + FONT, fill: '#111'}}))
  .concat(r2Legend(561.7, 535)).concat(r2Legend(66, 904.3));

const gridStyle = {show: true, borderColor: '#555', borderWidth: 1, backgroundColor: 'transparent'};
const option = {
  animation: false,
  backgroundColor: '#fff',
  grid: [
    Object.assign({left: PLOT.left, top: panelTops[0], width: PLOT.width, height: PANEL_H}, gridStyle),
    Object.assign({left: PLOT.left, top: 349, width: PLOT.width, height: 72}, gridStyle),
    Object.assign({left: PLOT.left, top: panelTops[1], width: PLOT.width, height: PANEL_H}, gridStyle),
    Object.assign({left: PLOT.left, top: panelTops[2], width: PLOT.width, height: PANEL_H}, gridStyle)
  ],
  xAxis: [
    xAxisHidden(0),
    {gridIndex: 1, type: 'value', min: X_MIN, max: X_MAX, position: 'bottom',
      axisLine: {show: false, onZero: false}, splitLine: {show: false},
      axisTick: {show: true, customValues: xTickKb, length: 6, lineStyle: {color: AXIS_GRAY}},
      axisLabel: {customValues: xTickKb, color: AXIS_GRAY, fontSize: 12, margin: 10, fontFamily: FONT,
        formatter: v => String(+(100 + v / 1000).toFixed(1))},
      name: 'Position on chr4 (Mb)', nameLocation: 'middle', nameGap: 30,
      nameTextStyle: {color: AXIS_GRAY, fontSize: 11.5, fontFamily: FONT}},
    xAxisHidden(2),
    xAxisHidden(3)
  ],
  yAxis: [
    leftY(0), rightY(0),
    {gridIndex: 1, type: 'value', min: 0.265, max: 3.204, inverse: true, show: false},
    leftY(2), rightY(2),
    leftY(3), rightY(3)
  ],
  graphic: graphics,
  series: [
    // Panel A
    recombSeries(0, 1),
    pointSeries(0, 0, band(bandKb, bandA).concat(band(bandKb2, bandA2), snpsA), '#8c8c8c', 2, true),
    labelled(0, 0, labA, '#8c8c8c', 'circle', 8.2, false),
    labelled(0, 0, leadA, LEAD_COLOR, 'diamond', 10, false),
    // genes
    {type: 'custom', xAxisIndex: 1, yAxisIndex: 2, renderItem: geneRender, clip: true, silent: true,
      data: geneNames.map((n, i) => [geneStart[i], geneEnd[i], geneRow[i]])},
    // Panel B
    recombSeries(2, 4),
    pointSeries(2, 3, bGray, '#9a9a9a', 2, true),
    pointSeries(2, 3, band(bandKb, bandB).concat(band(bandKb2, bandB2), bNavy), ldColors[4], 3, false),
    pointSeries(2, 3, bLightBlue, ldColors[3], 4, false),
    pointSeries(2, 3, bGreen, ldColors[2], 5, false),
    pointSeries(2, 3, bOrange, ldColors[1], 6, false),
    pointSeries(2, 3, bRed, ldColors[0], 7, false),
    labelled(2, 3, leadB, LEAD_COLOR, 'diamond', 10, true),
    // Panel C
    recombSeries(3, 6),
    pointSeries(3, 5, cGray, '#9a9a9a', 2, true),
    pointSeries(3, 5, band(bandKb, bandC).concat(band(bandKb2, bandC2), cNavy), ldColors[4], 3, false),
    pointSeries(3, 5, cLightBlue, ldColors[3], 4, false),
    pointSeries(3, 5, cGreen, ldColors[2], 5, false),
    labelled(3, 5, labC, ldColors[4], 'circle', 8.2, false),
    labelled(3, 5, leadC, LEAD_COLOR, 'diamond', 10, true)
  ]
};
const chart = echarts.init(document.getElementById('c'), null, {renderer: 'svg', width: 658, height: 1184});
chart.setOption(option);
</script></body></html>
